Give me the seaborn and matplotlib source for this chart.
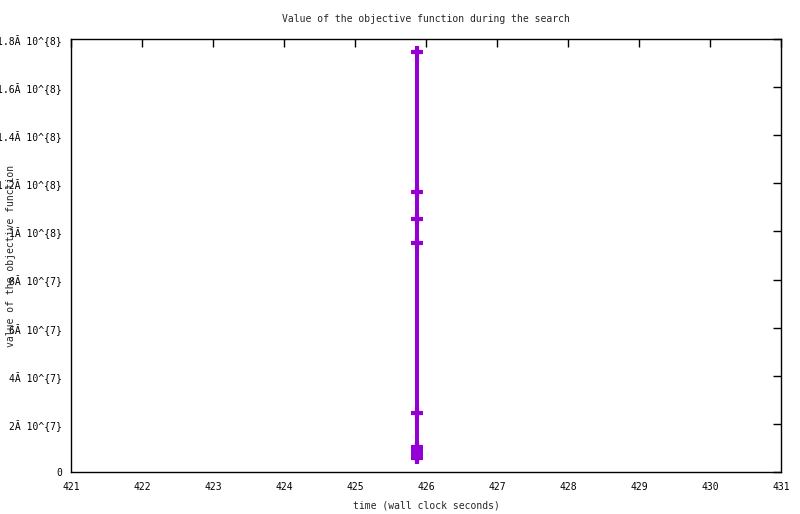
import matplotlib
matplotlib.use("Agg")
import matplotlib.pyplot as plt
import seaborn as sns
import pandas as pd

# search trace: wall clock time vs objective value
times = [425.87] * 12
objective = [1.744e8, 1.164e8, 1.052e8, 0.952e8, 0.245e8,
             1.04e7, 0.95e7, 0.87e7, 0.79e7, 0.72e7, 0.65e7, 0.58e7]

x_ticks = list(range(421, 432))
y_ticks = [0, 2e7, 4e7, 6e7, 8e7, 1e8, 1.2e8, 1.4e8, 1.6e8, 1.8e8]
y_tick_labels = ["0", "2Ă 10^{7}", "4Ă 10^{7}", "6Ă 10^{7}", "8Ă 10^{7}",
                 "1Ă 10^{8}", "1.2Ă 10^{8}", "1.4Ă 10^{8}", "1.6Ă 10^{8}",
                 "1.8Ă 10^{8}"]

sns.set_style("white")
plt.rcParams["font.family"] = ["DejaVu Sans Mono", "DejaVu Sans"]
plt.rcParams["font.size"] = 7

df = pd.DataFrame({"time": times, "objective": objective})

fig = plt.figure(figsize=(8, 5.14), dpi=100)
ax = fig.add_axes([71 / 800, 1 - 472 / 514, 710 / 800, 433 / 514])

sns.lineplot(data=df, x="time", y="objective", ax=ax, sort=False,
             estimator=None, color="#9400D3", linewidth=2.9,
             marker="+", markersize=8.5, markeredgewidth=3.0,
             markeredgecolor="#9400D3")

ax.set_xlim(421, 431)
ax.set_ylim(0, 1.8e8)
ax.set_xticks(x_ticks)
ax.set_yticks(y_ticks, labels=y_tick_labels)
ax.tick_params(direction="in", length=6, width=1, color="black",
               top=True, right=True, labelsize=7, labelcolor="black")
ax.tick_params(axis="y", pad=6.5)
ax.tick_params(axis="x", pad=7)

for s in ax.spines.values():
    s.set_visible(True)
    s.set_color("black")
    s.set_linewidth(1)

ax.set_xlabel("time (wall clock seconds)", fontsize=7)
ax.set_ylabel("value of the objective function", fontsize=7)
ax.xaxis.set_label_coords(0.5, (472 - 505) / 433)
ax.yaxis.set_label_coords((11 - 71) / 710, 0.5)
ax.xaxis.label.set_va("center")
ax.yaxis.label.set_va("center")

fig.text(426 / 800, 1 - 19 / 514, "Value of the objective function during the search",
         ha="center", va="center", fontsize=7)

fig.savefig("out.png", dpi=100)
